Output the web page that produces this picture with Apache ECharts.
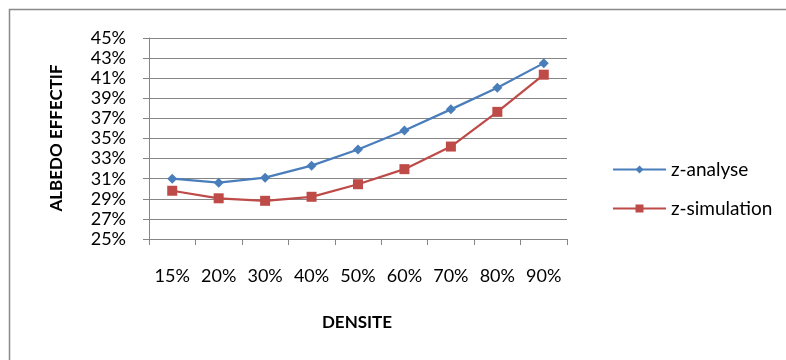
<!DOCTYPE html>
<html>
<head>
<meta charset="utf-8">
<script src="https://cdn.jsdelivr.net/npm/echarts@6/dist/echarts.min.js"></script>
<style>
html,body{margin:0;padding:0;background:#fff;}
#chart{width:786px;height:360px;}
</style>
</head>
<body>
<div id="chart"></div>
<script>
var categories = ['15%','20%','30%','40%','50%','60%','70%','80%','90%'];
var zAnalyse = [31.0, 30.6, 31.1, 32.3, 33.9, 35.8, 37.9, 40.05, 42.5];
var zSimulation = [29.8, 29.05, 28.8, 29.2, 30.45, 31.95, 34.2, 37.65, 41.35];
var yMin = 25, yMax = 45, yStep = 2;

var font = 'Lato, "Open Sans", sans-serif';
var chart = echarts.init(document.getElementById('chart'), null, {renderer:'canvas'});
chart.setOption({
  backgroundColor:'#fff',
  animation:false,
  graphic:[
    {type:'rect', shape:{x:9.5,y:9.5,width:820,height:420}, style:{fill:'none',stroke:'#898989',lineWidth:1.5}, silent:true},
    {type:'text', x:57, y:138, rotation:Math.PI/2, style:{text:'ALBEDO EFFECTIF', font:'bold 17px '+font, fill:'#000', align:'center', verticalAlign:'middle'}},
    {type:'text', x:357, y:323, style:{text:'DENSITE', font:'bold 17px '+font, fill:'#000', align:'center', verticalAlign:'middle'}}
  ],
  grid:{left:149, top:38, right:219, bottom:121},
  legend:{
    orient:'vertical', left:607, top:155, itemWidth:53, itemHeight:10, itemGap:20,
    textStyle:{fontFamily:font, fontSize:19, color:'#000', padding:[0,0,0,0]},
    data:[{name:'z-analyse'},{name:'z-simulation'}]
  },
  xAxis:{
    type:'category', data:categories, boundaryGap:true,
    axisLine:{lineStyle:{color:'#868686', width:1}},
    axisTick:{show:true, length:6, inside:false, lineStyle:{color:'#868686'}},
    axisLabel:{fontFamily:font, fontSize:18, color:'#000', margin:28}
  },
  yAxis:{
    type:'value', min:yMin, max:yMax, interval:yStep,
    axisLine:{show:true, lineStyle:{color:'#868686', width:1}},
    axisTick:{show:true, length:6, lineStyle:{color:'#868686'}},
    splitLine:{show:true, lineStyle:{color:'#868686', width:1}},
    axisLabel:{fontFamily:font, fontSize:18, color:'#000', margin:23, formatter:'{value}%'}
  },
  series:[
    {name:'z-analyse', type:'line', data:zAnalyse, symbol:'diamond', symbolSize:10,
     lineStyle:{color:'#4A7EBB', width:2.25}, itemStyle:{color:'#4A7EBB'}},
    {name:'z-simulation', type:'line', data:zSimulation, symbol:'rect', symbolSize:10,
     lineStyle:{color:'#BE4B48', width:2.25}, itemStyle:{color:'#BE4B48'}}
  ]
});
</script>
</body>
</html>
